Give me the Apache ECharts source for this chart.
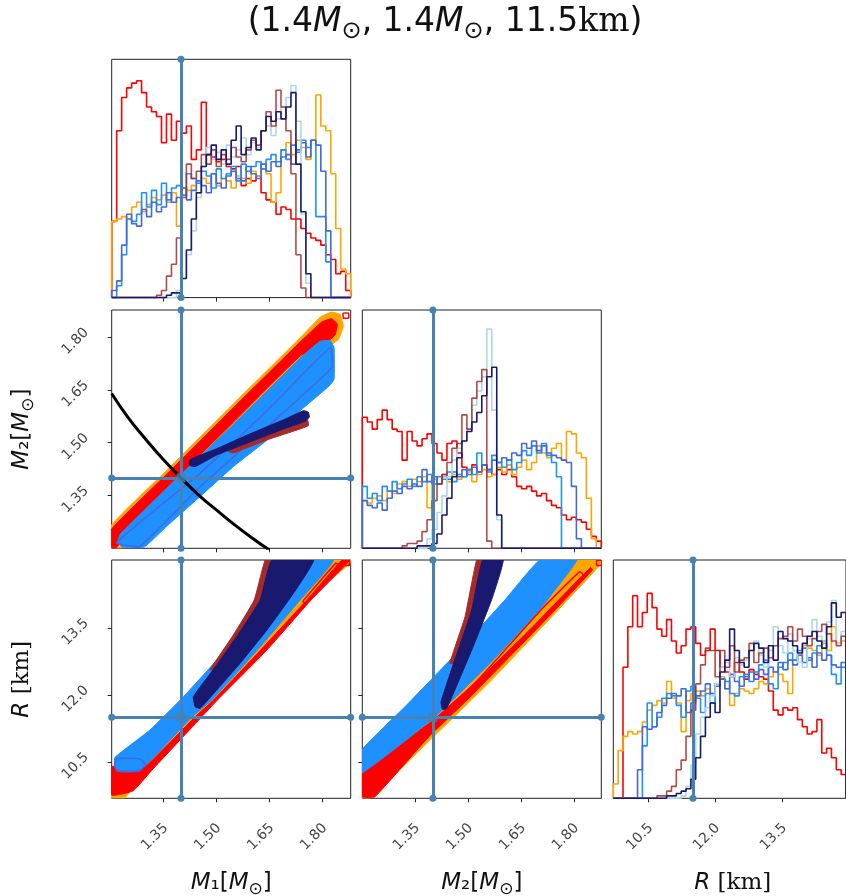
<!DOCTYPE html>
<html>
<head>
<meta charset="utf-8">
<script src="https://cdn.jsdelivr.net/npm/echarts@6/dist/echarts.min.js"></script>
<style>
  html, body { margin: 0; padding: 0; background: #fff; }
  #chart { width: 846px; height: 896px; }
</style>
</head>
<body>
<div id="chart"></div>
<script>
// ---------- parameter ranges and ticks ----------
const m1Range = [1.204, 1.880];
const m2Range = [1.200, 1.877];
const rRangeY = [9.687, 15.02];
const rRangeX = [9.714, 14.932];
const massTicks = [1.35, 1.50, 1.65, 1.80];
const radiusTicks = [10.5, 12.0, 13.5];
const truthM1 = 1.4, truthM2 = 1.4, truthR = 11.5;

// ---------- 1D marginal histograms (48 bins each, counts in % of panel height) ----------
const m1Red    = [32,70,84,88,90,91,86,80,78,76,65,77,66,74,69,72,58,62,82,60,59,57,58,55,54,55,47,50,49,51,44,41,40,35,38,37,33,33,29,27,25,24,22,18,16,10,11,3];
const m1Orange = [32,33,34,33,38,40,36,39,42,41,43,40,44,30,46,45,47,44,50,48,52,47,50,49,46,51,50,48,53,51,54,52,40,44,62,65,60,66,63,58,66,85,72,70,52,29,12,10];
const m1Dodger = [0,5,18,33,32,35,44,38,45,39,48,41,46,47,43,52,50,48,53,51,46,54,50,52,55,49,56,53,55,57,54,58,60,57,62,58,64,61,66,63,66,34,34,15,0,0,0,0];
const m1Royal  = [3,7,22,35,31,30,37,34,40,36,38,44,40,42,46,41,45,49,47,44,52,48,46,51,53,50,49,55,52,50,56,53,57,55,59,60,56,62,65,59,66,64,53,28,0,0,0,0];
const m1Light  = [0,0,0,0,0,0,0,0,0,0,0,0,0,3,8,18,28,42,55,63,58,61,56,64,59,62,67,60,65,63,70,72,68,75,80,84,89,74,35,6,0,0,0,0,0,0,0,0];
const m1Brown  = [0,0,0,0,0,0,0,0,0,1,3,9,14,25,42,56,50,53,60,56,62,55,60,58,63,59,57,62,66,64,70,78,72,87,80,70,52,18,4,0,0,0,0,0,0,0,0,0];
const m1Navy   = [0,0,0,0,0,0,0,0,0,0,0,1,2,2,8,20,33,44,55,60,64,58,62,56,66,72,60,63,67,62,70,76,74,78,75,80,86,56,36,10,0,0,0,0,0,0,0,0];

const m2Red    = [55,53,50,54,58,54,50,49,37,49,45,43,46,48,44,40,37,44,45,40,34,33,35,32,35,33,31,33,31,33,30,26,25,26,24,22,23,20,18,17,14,12,13,12,11,8,5,3];
const m2Orange = [20,19,21,22,20,24,23,27,28,26,29,28,30,17,29,27,30,28,31,29,30,32,28,31,33,30,31,34,32,35,31,34,37,33,36,43,40,38,42,44,37,49,48,40,38,21,4,0];
const m2Dodger = [26,21,23,20,26,24,28,25,27,29,26,30,28,31,27,30,29,32,28,31,30,33,31,40,35,32,39,36,34,37,33,36,41,39,43,40,44,39,36,30,0,0,0,0,0,0,0,0];
const m2Royal  = [20,18,17,19,16,21,24,23,26,25,27,26,33,28,30,27,31,29,32,30,33,31,34,32,35,33,37,36,38,37,40,39,44,42,45,41,43,40,39,38,37,36,26,4,0,0,0,0];
const m2Light  = [0,0,0,0,0,0,0,0,0,0,0,0,0,4,8,15,22,30,37,42,45,50,60,66,72,92,58,12,0,0,0,0,0,0,0,0,0,0,0,0,0,0,0,0,0,0,0,0];
const m2Brown  = [0,0,0,0,0,0,0,0,1,2,2,3,7,12,20,27,31,36,42,44,56,50,63,70,75,3,0,0,0,0,0,0,0,0,0,0,0,0,0,0,0,0,0,0,0,0,0,0];
const m2Navy   = [0,0,0,0,0,0,0,0,0,0,0,1,1,1,2,6,14,21,30,38,45,49,53,57,64,72,76,14,0,0,0,0,0,0,0,0,0,0,0,0,0,0,0,0,0,0,0,0];

const rRed     = [0,0,55,72,85,72,78,86,80,71,68,75,66,61,64,71,72,65,60,62,71,62,55,53,51,57,53,50,54,52,51,50,45,37,35,38,37,38,33,30,27,28,33,19,21,17,12,10];
const rOrange  = [6,20,26,28,27,28,32,37,39,41,40,49,42,40,28,41,44,45,43,46,44,48,51,46,39,44,46,45,44,46,49,48,51,53,52,49,44,58,60,64,63,62,60,65,62,72,65,66];
const rDodger  = [0,0,0,0,0,0,22,40,30,34,42,44,43,39,34,45,47,42,36,44,40,48,50,49,44,43,51,52,49,53,56,58,48,46,55,57,61,58,62,63,58,61,64,66,60,52,48,55];
const rRoyal   = [0,0,0,0,0,12,30,29,30,36,39,42,44,43,46,36,40,43,45,48,44,47,50,46,52,49,47,51,53,50,54,52,55,53,57,54,58,56,60,57,59,55,61,58,60,56,55,57];
const rLight   = [0,0,0,0,0,0,0,0,0,0,0,0,0,0,1,5,14,27,34,38,43,48,55,57,51,59,56,58,62,66,60,55,62,72,64,61,69,62,57,55,67,75,68,66,74,83,65,70];
const rBrown   = [0,0,0,0,0,0,0,0,0,1,1,3,5,12,16,26,37,48,56,63,62,51,62,55,64,53,58,59,65,57,61,63,59,64,67,68,72,66,71,68,64,67,70,73,69,66,64,68];
const rNavy    = [0,0,0,0,0,0,0,0,0,0,0,1,1,2,3,4,8,17,26,34,40,36,53,58,71,62,57,55,62,65,63,57,64,58,70,67,66,64,61,65,68,70,66,63,72,82,76,78];

// ---------- 2D credible regions (outlines in data units) ----------
// M2 vs M1
const m2m1Orange = [[1.204,1.267],[1.360,1.422],[1.548,1.610],[1.737,1.798],[1.793,1.856],[1.826,1.871],[1.850,1.864],[1.859,1.831],[1.845,1.793],[1.826,1.779],[1.737,1.713],[1.548,1.525],[1.360,1.338],[1.265,1.225],[1.256,1.202],[1.204,1.202]];
const m2m1Red    = [[1.204,1.255],[1.360,1.411],[1.548,1.599],[1.737,1.786],[1.798,1.843],[1.826,1.852],[1.842,1.837],[1.836,1.807],[1.822,1.793],[1.737,1.746],[1.548,1.558],[1.360,1.371],[1.246,1.244],[1.218,1.202],[1.204,1.202]];
const m2m1Dodger = [[1.228,1.240],[1.360,1.371],[1.548,1.552],[1.737,1.740],[1.793,1.788],[1.822,1.790],[1.833,1.770],[1.833,1.680],[1.820,1.662],[1.737,1.591],[1.643,1.507],[1.548,1.432],[1.454,1.347],[1.360,1.263],[1.294,1.202],[1.235,1.202],[1.222,1.220]];
const m2m1Royal  = [[1.218,1.216],[1.454,1.413],[1.643,1.591],[1.822,1.770],[1.826,1.713],[1.643,1.544],[1.454,1.375],[1.284,1.206]];
const m2m1Brown  = [[1.540,1.490],[1.643,1.530],[1.756,1.570],[1.760,1.548],[1.643,1.508],[1.548,1.471],[1.535,1.475]];
const m2m1Navy   = [[1.426,1.452],[1.501,1.483],[1.595,1.525],[1.690,1.565],[1.746,1.591],[1.760,1.587],[1.763,1.573],[1.751,1.561],[1.690,1.539],[1.595,1.502],[1.501,1.465],[1.440,1.432],[1.424,1.436]];
const m2m1Ring   = [[1.859,1.868],[1.874,1.868],[1.874,1.854],[1.859,1.854]];
// constant chirp-mass curve
const chirpM1 = [1.204,1.25,1.30,1.35,1.40,1.45,1.50,1.55,1.60,1.65];
const chirpM2 = [1.640,1.572,1.510,1.452,1.400,1.351,1.309,1.268,1.230,1.195];

// R vs M1
const rm1Orange = [[1.204,10.17],[1.397,11.75],[1.643,13.50],[1.800,15.02],[1.880,15.02],[1.880,14.96],[1.768,14.20],[1.643,13.07],[1.503,11.93],[1.300,10.30],[1.240,9.685],[1.204,9.685]];
const rm1Red    = [[1.204,10.394],[1.265,10.394],[1.300,10.40],[1.440,11.513],[1.492,11.886],[1.625,13.005],[1.756,14.125],[1.855,15.02],[1.874,15.02],[1.874,14.98],[1.768,14.125],[1.643,13.005],[1.503,11.886],[1.459,11.513],[1.318,10.319],[1.265,9.856],[1.204,9.759]];
const rm1Dodger = [[1.213,10.603],[1.312,11.214],[1.407,11.961],[1.501,12.781],[1.595,13.751],[1.661,15.02],[1.831,15.02],[1.737,14.125],[1.616,13.005],[1.487,11.886],[1.432,11.513],[1.284,10.304],[1.228,10.282],[1.213,10.394]];
const rm1Royal  = [[1.218,10.58],[1.284,10.57],[1.300,10.45],[1.284,10.31],[1.218,10.30],[1.212,10.45]];
const rm1RedLoop = [[1.745,14.10],[1.838,14.95],[1.845,14.90],[1.752,14.05]];
const rm1Brown  = [[1.482,12.558],[1.548,13.341],[1.607,14.125],[1.638,15.02],[1.661,15.02],[1.628,14.125],[1.572,13.378],[1.506,12.632]];
const rm1Navy   = [[1.440,11.737],[1.435,11.961],[1.501,12.669],[1.567,13.416],[1.624,14.125],[1.657,15.02],[1.775,15.02],[1.718,14.274],[1.643,13.453],[1.567,12.707],[1.501,12.11],[1.454,11.699]];
const rm1Ring   = [[1.859,15.01],[1.876,15.01],[1.876,14.90],[1.859,14.90]];

// R vs M2
const rm2Orange = [[1.200,10.319],[1.401,11.55],[1.557,12.90],[1.746,14.45],[1.800,15.02],[1.878,15.02],[1.878,14.945],[1.746,13.826],[1.557,12.259],[1.368,10.804],[1.222,9.685],[1.200,9.685]];
const rm2Red    = [[1.200,10.244],[1.401,11.438],[1.557,12.55],[1.746,14.02],[1.846,14.85],[1.852,14.80],[1.746,13.90],[1.557,12.371],[1.401,11.177],[1.236,9.722],[1.200,9.722]];
const rm2Dodger = [[1.200,10.781],[1.321,11.737],[1.462,12.893],[1.604,14.125],[1.703,15.02],[1.807,15.02],[1.793,14.833],[1.698,13.863],[1.557,12.669],[1.401,11.476],[1.200,10.259]];
const rm2RedLoop = [[1.236,10.095],[1.510,12.184],[1.712,13.95],[1.816,14.759],[1.826,14.684],[1.722,13.84],[1.519,12.072],[1.245,10.02]];
const rm2Brown  = [[1.448,12.707],[1.491,13.751],[1.524,15.02],[1.547,15.02],[1.505,13.751],[1.462,12.707]];
const rm2Navy   = [[1.423,11.848],[1.462,12.781],[1.510,13.901],[1.541,15.02],[1.599,15.02],[1.566,14.125],[1.510,13.005],[1.462,12.11],[1.439,11.699],[1.427,11.677]];
const rm2Ring   = [[1.864,15.01],[1.878,15.01],[1.878,14.90],[1.864,14.90]];

// ---------- styling ----------
const C = {
  red: '#ff0000', orange: '#ffa500', dodger: '#1e90ff', royal: '#4169e1',
  light: '#add8e6', brown: '#a52a2a', navy: '#191970', truth: '#4682b4'
};
const FONT = 'DejaVu Sans';
const COLS = [111.7, 362.3, 613.3];
const ROWS = [59.3, 310, 560];
const PW = 239, PH = 238.3;

// grid order: 0 M1 hist, 1 M2-M1, 2 M2 hist, 3 R-M1, 4 R-M2, 5 R hist
const cells = [[0, 0], [1, 0], [1, 1], [2, 0], [2, 1], [2, 2]];
const grid = cells.map(([r, c]) => ({
  left: COLS[c], top: ROWS[r], width: PW, height: PH,
  show: true, borderColor: '#222', borderWidth: 1, backgroundColor: 'transparent'
}));

const fmtMass = v => v.toFixed(2);
const fmtR = v => v.toFixed(1);

function axis(gi, range, ticks, labels, fmt, margin, pad) {
  return {
    type: 'value', gridIndex: gi, min: range[0], max: range[1],
    axisLine: { show: false }, splitLine: { show: false },
    axisTick: ticks ? { show: true, customValues: ticks, length: 4, lineStyle: { color: '#222', width: 1 } } : { show: false },
    axisLabel: labels ? {
      show: true, customValues: ticks, formatter: fmt, rotate: 45,
      align: 'center', verticalAlign: 'middle', margin: margin, padding: pad,
      fontFamily: FONT, fontSize: 14, color: '#444'
    } : { show: false }
  };
}
const histY = [0, 100];
const padX = [0, 24, 6, 0];
const padY = [6, 12, 0, 0];

const xAxis = [
  axis(0, m1Range, massTicks, false),
  axis(1, m1Range, massTicks, false),
  axis(2, m2Range, massTicks, false),
  axis(3, m1Range, massTicks, true, fmtMass, 30, padX),
  axis(4, m2Range, massTicks, true, fmtMass, 30, padX),
  axis(5, rRangeX, radiusTicks, true, fmtR, 30, padX)
];
const yAxis = [
  axis(0, histY, null, false),
  axis(1, m2Range, massTicks, true, fmtMass, 32, padY),
  axis(2, histY, null, false),
  axis(3, rRangeY, radiusTicks, true, fmtR, 32, padY),
  axis(4, rRangeY, radiusTicks, false),
  axis(5, histY, null, false)
];

// ---------- series builders ----------
function histPoints(range, counts) {
  const w = (range[1] - range[0]) / counts.length;
  const pts = [[range[0], 0]];
  counts.forEach((c, i) => pts.push([range[0] + i * w, c]));
  pts.push([range[1], counts[counts.length - 1]]);
  pts.push([range[1], 0]);
  return pts;
}
function hist(gi, range, counts, color, opacity) {
  return {
    type: 'line', xAxisIndex: gi, yAxisIndex: gi, step: 'end',
    data: histPoints(range, counts), showSymbol: false, clip: true, silent: true, z: 3,
    lineStyle: { color: color, width: 1.6, opacity: opacity || 1 }
  };
}
function region(gi, pts, fill, stroke, lw, z) {
  return {
    type: 'custom', xAxisIndex: gi, yAxisIndex: gi, coordinateSystem: 'cartesian2d',
    clip: true, silent: true, z: z || 2, data: [pts[0]],
    renderItem: (params, api) => ({
      type: 'polygon',
      shape: { points: pts.map(p => api.coord(p)), smooth: 0.12 },
      style: { fill: fill || 'none', stroke: stroke || fill, lineWidth: lw || 1, lineJoin: 'round' }
    })
  };
}
function truthLines(gi, xv, yv, withSquare) {
  const ml = [];
  if (xv !== null) ml.push({ xAxis: xv });
  if (yv !== null) ml.push({ yAxis: yv });
  return {
    type: 'scatter', xAxisIndex: gi, yAxisIndex: gi, z: 10, silent: true,
    data: withSquare ? [[xv, yv]] : [],
    symbol: 'rect', symbolSize: 9, itemStyle: { color: C.truth },
    markLine: {
      silent: true, animation: false, symbol: ['circle', 'circle'], symbolSize: 7,
      lineStyle: { color: C.truth, width: 3, type: 'solid', opacity: 1 },
      itemStyle: { color: C.truth },
      label: { show: false }, emphasis: { disabled: true },
      data: ml
    }
  };
}

const series = [];
// marginal histograms
[
  [0, m1Range, [m1Red, m1Orange, m1Dodger, m1Royal, m1Light, m1Brown, m1Navy]],
  [2, m2Range, [m2Red, m2Orange, m2Dodger, m2Royal, m2Light, m2Brown, m2Navy]],
  [5, rRangeX, [rRed, rOrange, rDodger, rRoyal, rLight, rBrown, rNavy]]
].forEach(([gi, range, sets]) => {
  const cols = [C.red, C.orange, C.dodger, C.royal, C.light, C.brown, C.navy];
  sets.forEach((counts, k) => series.push(hist(gi, range, counts, cols[k], k === 5 ? 0.85 : 1)));
});

// M2 vs M1 panel
series.push(
  region(1, m2m1Orange, C.orange),
  region(1, m2m1Red, C.red),
  region(1, m2m1Dodger, C.dodger),
  region(1, m2m1Royal, null, C.royal, 1.5),
  region(1, m2m1Brown, C.brown),
  region(1, m2m1Navy, C.navy),
  region(1, m2m1Ring, null, C.red, 1.5),
  {
    type: 'line', xAxisIndex: 1, yAxisIndex: 1, z: 6, silent: true, clip: true,
    data: chirpM1.map((x, i) => [x, chirpM2[i]]), smooth: true, showSymbol: false,
    lineStyle: { color: '#000', width: 3 }
  }
);
// R vs M1 panel
series.push(
  region(3, rm1Orange, C.orange),
  region(3, rm1Red, C.red),
  region(3, rm1Dodger, C.dodger),
  region(3, rm1Royal, null, C.royal, 1.5),
  region(3, rm1RedLoop, null, C.red, 1.5),
  region(3, rm1Brown, C.brown),
  region(3, rm1Navy, C.navy),
  region(3, rm1Ring, null, C.red, 1.5)
);
// R vs M2 panel
series.push(
  region(4, rm2Orange, C.orange),
  region(4, rm2Red, C.red),
  region(4, rm2Dodger, C.dodger),
  region(4, rm2RedLoop, null, C.red, 1.5),
  region(4, rm2Brown, C.brown),
  region(4, rm2Navy, C.navy),
  region(4, rm2Ring, null, C.red, 1.5)
);
// injected values
series.push(
  truthLines(0, truthM1, null, false),
  truthLines(1, truthM1, truthM2, true),
  truthLines(2, truthM2, null, false),
  truthLines(3, truthM1, truthR, true),
  truthLines(4, truthM2, truthR, true),
  truthLines(5, truthR, null, false)
);

// ---------- text ----------
function mathRich(fs) {
  const lh = Math.round(fs * 1.3);
  return {
    n: { fontFamily: FONT, fontSize: fs, lineHeight: lh, fill: '#111' },
    i: { fontFamily: FONT, fontSize: fs, fontStyle: 'italic', lineHeight: lh, fill: '#111' },
    s: { fontFamily: FONT, fontSize: Math.round(fs * 0.72), lineHeight: Math.round(fs * 0.78), verticalAlign: 'bottom', fill: '#111' },
    k: { fontFamily: 'DejaVu Serif', fontSize: fs, lineHeight: lh, fill: '#111' }
  };
}
function label(x, y, text, fs, rot) {
  return {
    type: 'text', x: x, y: y, rotation: rot || 0, silent: true,
    style: { text: text, rich: mathRich(fs), align: 'center', verticalAlign: 'middle', textAlign: 'center', textVerticalAlign: 'middle' }
  };
}
const massLabel1 = '{i|M}{n|₁[}{i|M}{s|⊙}{n|]}';
const massLabel2 = '{i|M}{n|₂[}{i|M}{s|⊙}{n|]}';
const radiusLabel = '{i|R}{n| }{k|[km]}';
const titleText = '{n|(1.4}{i|M}{s|⊙}{n|, 1.4}{i|M}{s|⊙}{n|, 11.5}{k|km}{n|)}';

const graphic = [
  label(445, 22, titleText, 33),
  label(COLS[0] + PW / 2, 883, massLabel1, 23),
  label(COLS[1] + PW / 2, 883, massLabel2, 23),
  label(COLS[2] + PW / 2, 883, radiusLabel, 23),
  label(22, ROWS[1] + PH / 2, massLabel2, 23, Math.PI / 2),
  label(22, ROWS[2] + PH / 2, radiusLabel, 23, Math.PI / 2)
];

const chart = echarts.init(document.getElementById('chart'), null, { renderer: 'canvas' });
chart.setOption({
  animation: false,
  backgroundColor: '#fff',
  grid: grid,
  xAxis: xAxis,
  yAxis: yAxis,
  series: series,
  graphic: graphic
});
</script>
</body>
</html>
